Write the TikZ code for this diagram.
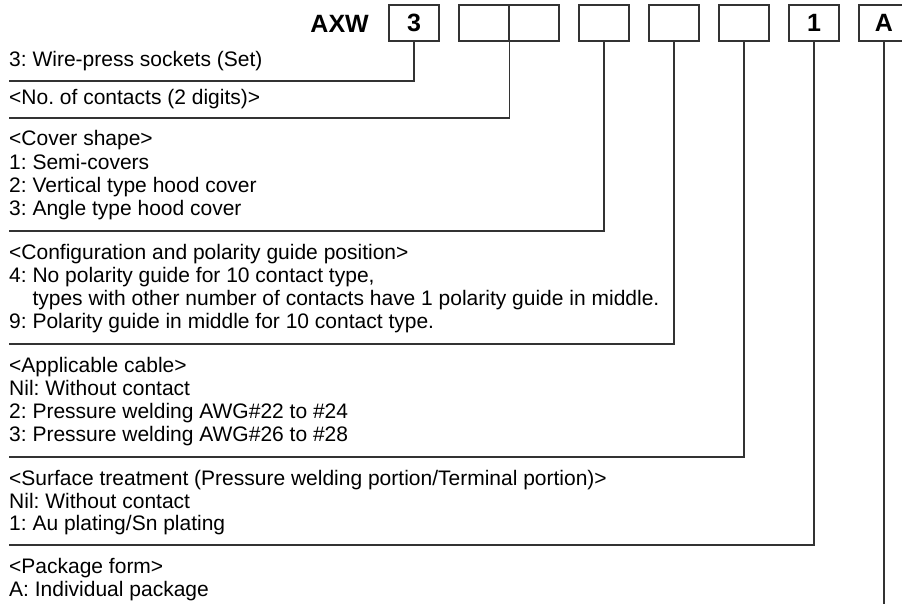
\documentclass[tikz,border=0pt]{standalone}
\usepackage{fontspec}
\setmainfont{Liberation Sans}
\frenchspacing
\begin{document}
\begin{tikzpicture}[x=1pt,y=-1pt,
  box/.style={draw=black!80, line width=1.1pt, minimum width=50pt, minimum height=36pt, inner sep=0pt, font=\fontsize{25}{25}\selectfont\bfseries},
  lbl/.style={anchor=base west, inner sep=0pt, font=\fontsize{21}{22}\selectfont},
  conn/.style={draw=black!80, line width=1.2pt}]
\useasboundingbox (0,0) rectangle (902,607);
\clip (0,0) rectangle (902,607);
% code boxes
\node[anchor=base east, inner sep=0pt, font=\fontsize{25}{25}\selectfont\bfseries] (axw) at (369,33) {AXW};
\node[box] (b1) at (414,23) {3};
\node[box] (b2a) at (484,23) {};
\node[box] (b2b) at (534,23) {};
\node[box] (b3) at (604,23) {};
\node[box] (b4) at (674,23) {};
\node[box] (b5) at (744,23) {};
\node[box] (b6) at (814,23) {1};
\node[box] (b7) at (884,23) {A};
% end points of connectors
\coordinate (e1) at (9,81);
\coordinate (e2) at (9,118);
\coordinate (e3) at (9,231);
\coordinate (e4) at (9,344);
\coordinate (e5) at (9,457);
\coordinate (e6) at (9,545);
\coordinate (e7) at (884,604);
\draw[conn] (b1.south) |- (e1);
\draw[conn] (b2a.south east) |- (e2);
\draw[conn] (b3.south) |- (e3);
\draw[conn] (b4.south) |- (e4);
\draw[conn] (b5.south) |- (e5);
\draw[conn] (b6.south) |- (e6);
\draw[conn] (b7.south) -- (e7);
% texts
\node[lbl] (t1) at (9,67) {3: Wire-press sockets (Set)};
\node[lbl] (t2) at (9,105) {<No. of contacts (2 digits)>};
\node[lbl] (t3a) at (9,146) {<Cover shape>};
\node[lbl] (t3b) at (9,169) {1: Semi-covers};
\node[lbl] (t3c) at (9,192) {2: Vertical type hood cover};
\node[lbl] (t3d) at (9,215) {3: Angle type hood cover};
\node[lbl] (t4a) at (9,259) {<Configuration and polarity guide position>};
\node[lbl] (t4b) at (9,282) {4: No polarity guide for 10 contact type,};
\node[lbl] (t4c) at (9,305) {\phantom{4: }types with other number of contacts have 1 polarity guide in middle.};
\node[lbl] (t4d) at (9,328) {9: Polarity guide in middle for 10 contact type.};
\node[lbl] (t5a) at (9,372) {<Applicable cable>};
\node[lbl] (t5b) at (9,395) {Nil: Without contact};
\node[lbl] (t5c) at (9,418) {2: Pressure welding AWG\#22 to \#24};
\node[lbl] (t5d) at (9,441) {3: Pressure welding AWG\#26 to \#28};
\node[lbl] (t6a) at (9,485) {<Surface treatment (Pressure welding portion/Terminal portion)>};
\node[lbl] (t6b) at (9,508) {Nil: Without contact};
\node[lbl] (t6c) at (9,530) {1: Au plating/Sn plating};
\node[lbl] (t7a) at (9,573) {<Package form>};
\node[lbl] (t7b) at (9,596) {A: Individual package};
\end{tikzpicture}
\end{document}
